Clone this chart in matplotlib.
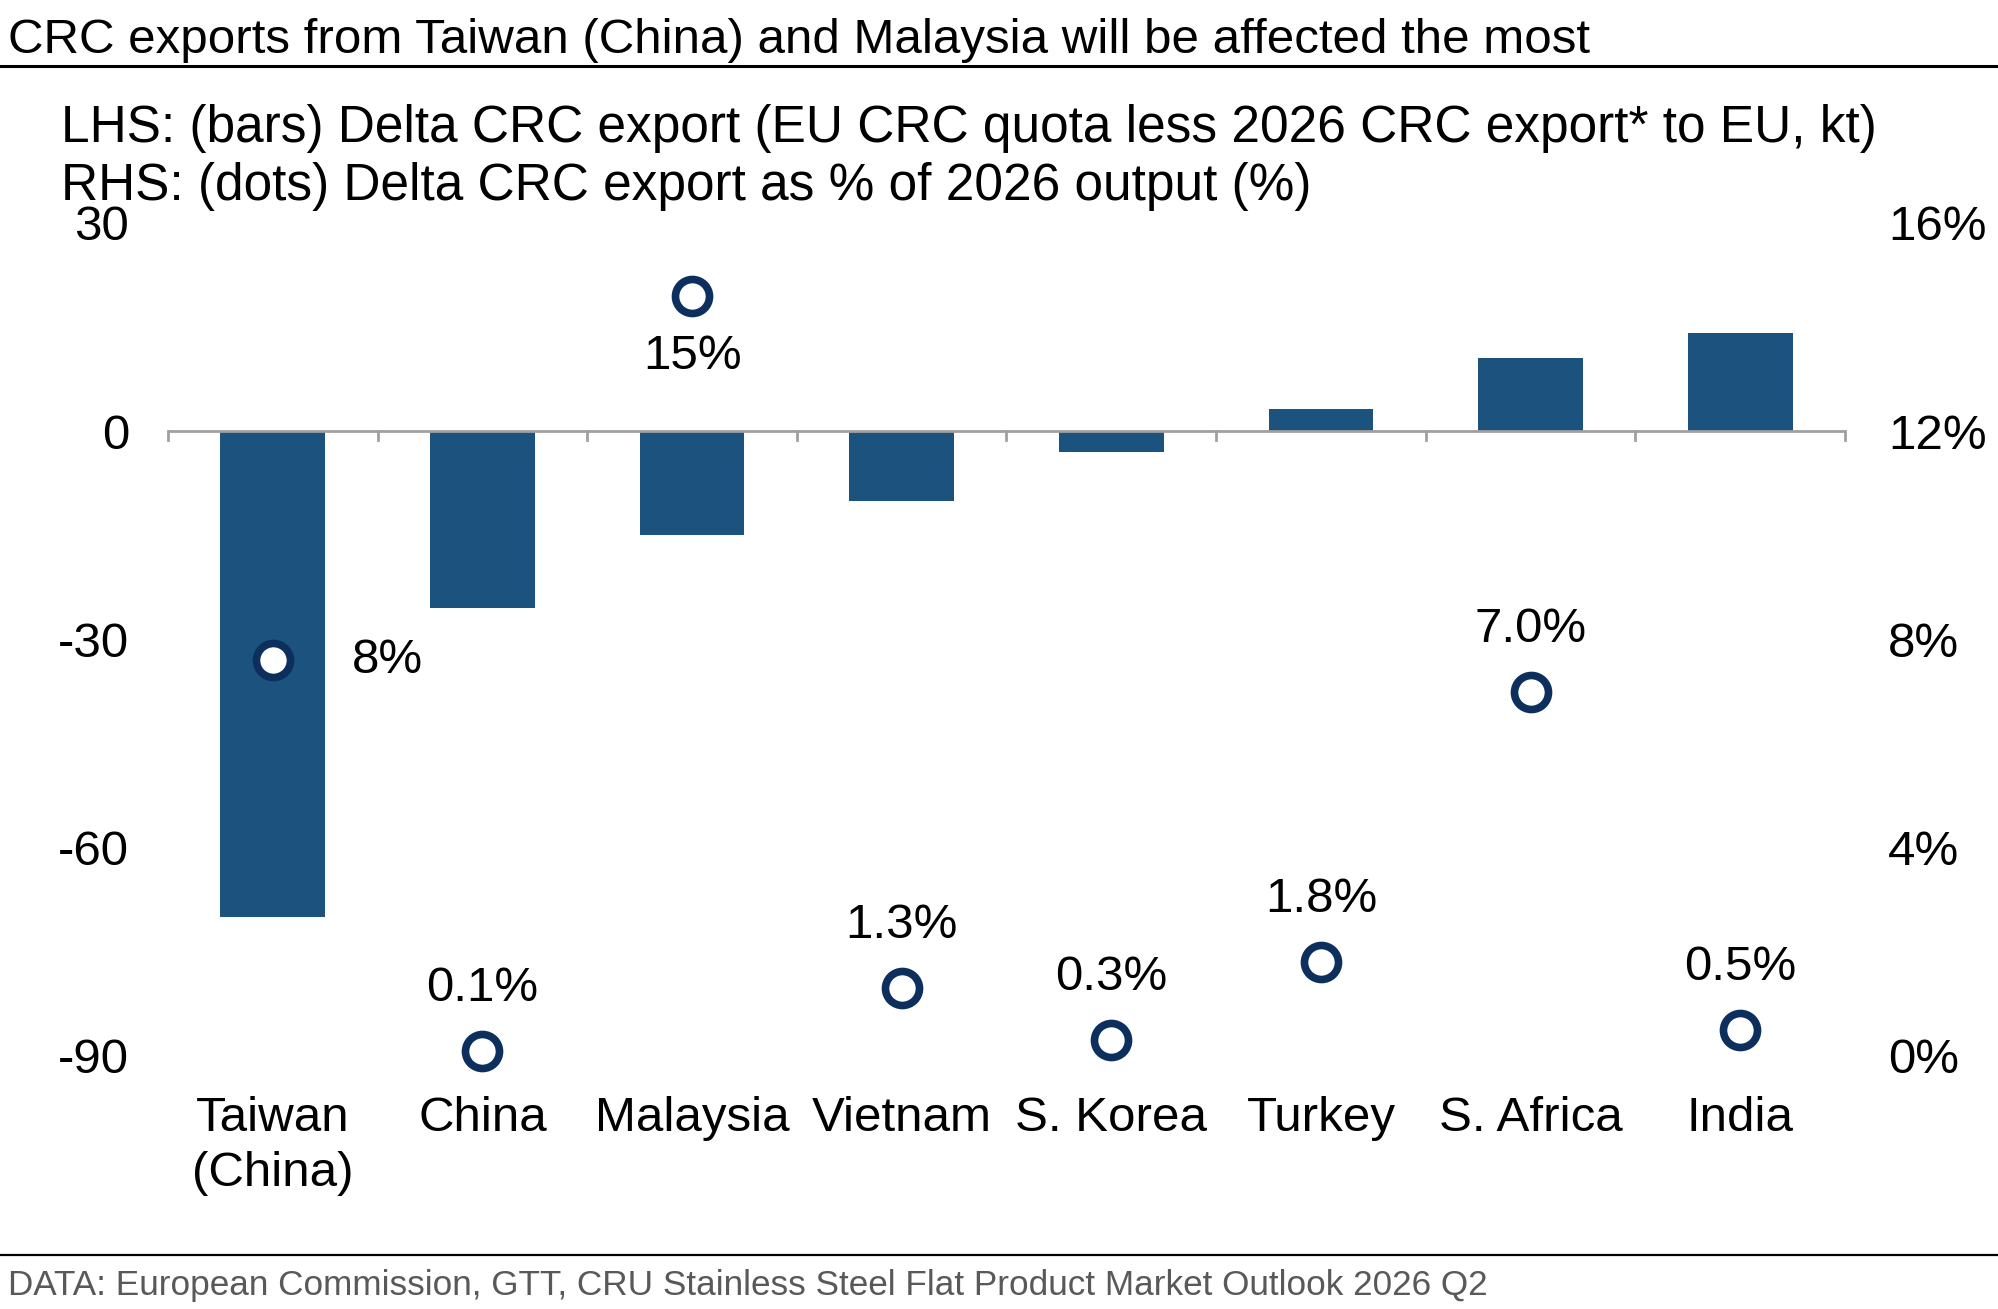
import numpy as np
import matplotlib
matplotlib.use("Agg")
import matplotlib.pyplot as plt

plt.rcParams['font.family'] = ['Liberation Sans', 'DejaVu Sans']

# data
countries = ["Taiwan\n(China)", "China", "Malaysia", "Vietnam", "S. Korea", "Turkey", "S. Africa", "India"]
delta_kt = [-70, -25.5, -15, -10, -3, 3.2, 10.6, 14.1]
delta_pct = [7.6, 0.1, 14.6, 1.3, 0.3, 1.8, 7.0, 0.5]
pct_labels = ["8%", "0.1%", "15%", "1.3%", "0.3%", "1.8%", "7.0%", "0.5%"]
lhs_ticks = [-90, -60, -30, 0, 30]
rhs_ticks = [0, 4, 8, 12, 16]

title = "CRC exports from Taiwan (China) and Malaysia will be affected the most"
sub1 = "LHS: (bars) Delta CRC export (EU CRC quota less 2026 CRC export* to EU, kt)"
sub2 = "RHS: (dots) Delta CRC export as % of 2026 output (%)"
source = "DATA: European Commission, GTT, CRU Stainless Steel Flat Product Market Outlook 2026 Q2"

bar_col = "#1B527E"
dot_col = "#0C2F5E"
label_pos = ["right", "above", "below", "above", "above", "above", "above", "above"]
fs = 35.5

fig = plt.figure(figsize=(19.98, 13.09), dpi=100)
ax = fig.add_axes([0.0841, 0.1933, 0.8393, 0.6364])

x = np.arange(len(countries))
ax.bar(x, delta_kt, width=0.5, color=bar_col, zorder=2)
ax.set_xlim(-0.5, len(countries) - 0.5)
ax.set_ylim(-90, 30)
ax.set_yticks(lhs_ticks)
ax.set_yticklabels([str(t) for t in lhs_ticks])
ax.set_xticks(x)
ax.set_xticklabels(countries, linespacing=1.28)
ax.tick_params(axis='y', length=0, pad=28, labelsize=fs)
ax.tick_params(axis='x', length=0, pad=29, labelsize=fs)
for s in ax.spines.values():
    s.set_visible(False)

# category axis drawn at zero with boundary ticks pointing down
ax.axhline(0, color="#A0A0A0", lw=2, zorder=3)
for b in np.arange(-0.5, len(countries), 1.0):
    ax.plot([b, b], [0, -1.3], color="#A0A0A0", lw=2, zorder=3, clip_on=False)

ax2 = ax.twinx()
ax2.set_ylim(0, 16)
ax2.set_yticks(rhs_ticks)
ax2.set_yticklabels([f"{t}%" for t in rhs_ticks])
ax2.tick_params(axis='y', length=0, pad=31, labelsize=fs)
for s in ax2.spines.values():
    s.set_visible(False)
ax2.plot(x, delta_pct, 'o', ms=24.5, mfc='white', mec=dot_col, mew=5.5,
         zorder=5, clip_on=False)

offsets = {"above": ((0, 45), "center", "center"),
           "below": ((0, -44), "center", "center"),
           "right": ((57, 0), "left", "center")}
for xi, yi, lab, pos in zip(x, delta_pct, pct_labels, label_pos):
    off, ha, va = offsets[pos]
    ax2.annotate(lab, (xi, yi), xytext=off, textcoords='offset points',
                 ha=ha, va=va, fontsize=fs)

fig.text(0.004, 0.9694, title, fontsize=35.5, ha='left', va='center')
fig.add_artist(plt.Line2D([0, 1], [0.9496, 0.9496], color='black', lw=2.2))
fig.text(0.0305, 0.9022, sub1, fontsize=37, ha='left', va='center')
fig.text(0.0305, 0.8579, sub2, fontsize=37, ha='left', va='center')
fig.add_artist(plt.Line2D([0, 1], [0.0413, 0.0413], color='black', lw=1.6))
fig.text(0.004, 0.0176, source, fontsize=25.3, ha='left', va='center', color='#595959')

fig.savefig("out.png", dpi=100)
